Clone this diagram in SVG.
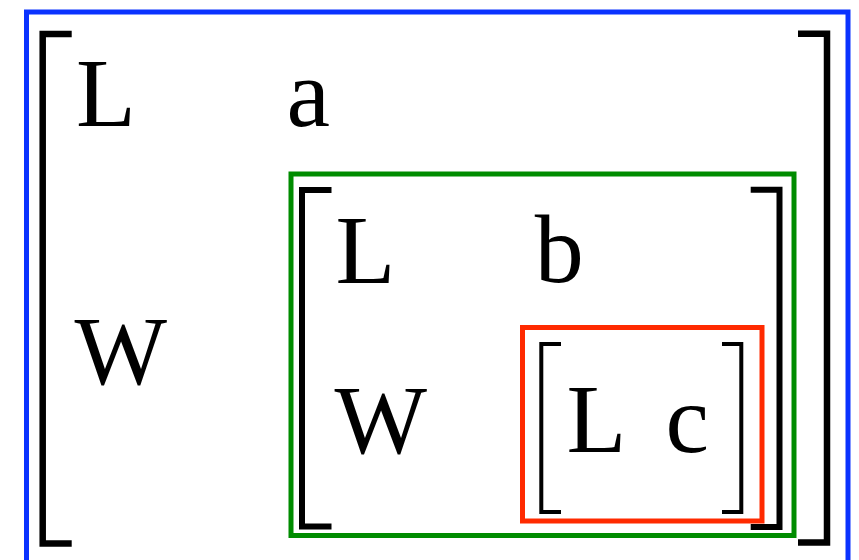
<svg xmlns="http://www.w3.org/2000/svg" width="859" height="560" viewBox="0 0 859 560">
<style>
.t{font-family:'Times New Roman','Liberation Serif','Noto Serif CJK SC',serif;font-size:98px;fill:#000}
.br{fill:none;stroke:#000}
.box{fill:none;stroke-width:5}
</style>
<rect width="859" height="560" fill="#fff"/>
<g id="outer">
  <rect class="box" x="26.5" y="12" width="821.5" height="560" stroke="#0a32ff"/>
  <path class="br" stroke-width="6.5" d="M71.7,34 H42.7 V543.5 H71.7"/>
  <path class="br" stroke-width="6.5" d="M798,33.7 H827 V542.5 H798"/>
  <text class="t" x="76" y="126">L</text>
  <text class="t" x="286.4" y="126">a</text>
  <text class="t" x="74.5" y="383.5">W</text>
</g>
<g id="middle">
  <rect class="box" x="291" y="174" width="503" height="361.5" stroke="#008c00"/>
  <path class="br" stroke-width="6" d="M331.5,190 H302 V526.5 H331.5"/>
  <path class="br" stroke-width="6" d="M750.7,189.7 H779.5 V527 H750.7"/>
  <text class="t" x="335.5" y="282.5">L</text>
  <text class="t" x="534.7" y="282">b</text>
  <text class="t" x="334.5" y="453">W</text>
</g>
<g id="inner">
  <rect class="box" x="522.5" y="327.5" width="239.5" height="193.5" stroke="#ff2a00"/>
  <path class="br" stroke-width="4" d="M561,344 H541.3 V512 H561"/>
  <path class="br" stroke-width="4" d="M722,344 H741.3 V512 H722"/>
  <text class="t" x="566.5" y="452">L</text>
  <text class="t" x="665.5" y="452">c</text>
</g>
</svg>
